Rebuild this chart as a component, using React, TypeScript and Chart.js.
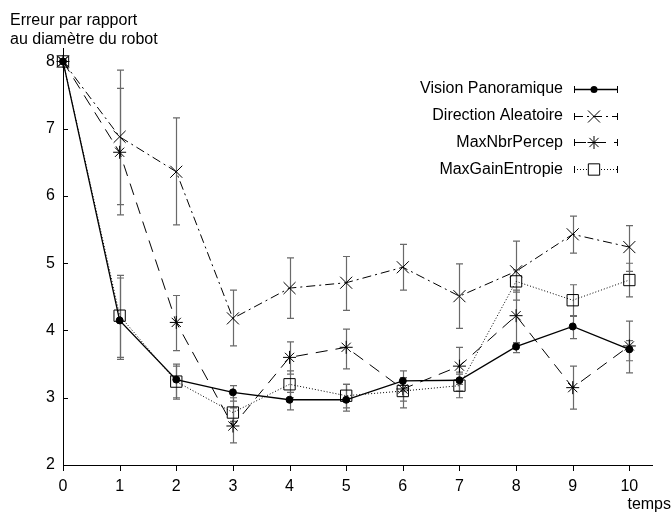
import React, { useEffect, useRef } from "react";
import { Chart, registerables } from "chart.js";

Chart.register(...registerables);

const xValues = [0, 1, 2, 3, 4, 5, 6, 7, 8, 9, 10];
const yTicks = [2, 3, 4, 5, 6, 7, 8];

const seriesNames = ["Vision Panoramique", "Direction Aleatoire", "MaxNbrPercep", "MaxGainEntropie"];

const visionVals = [8, 4.15, 3.27, 3.08, 2.97, 2.97, 3.25, 3.26, 3.76, 4.06, 3.72];
const visionLow = [8, 3.57, 3.0, 2.95, 2.82, 2.8, 3.1, 3.1, 3.67, 3.88, 3.55];
const visionHigh = [8, 4.78, 3.5, 3.18, 3.08, 3.2, 3.4, 3.38, 3.82, 4.22, 3.85];

const directionVals = [8, 6.88, 6.36, 4.18, 4.63, 4.71, 4.94, 4.51, 4.88, 5.43, 5.24];
const directionLow = [8, 5.72, 5.57, 3.77, 4.18, 4.3, 4.6, 4.03, 4.45, 5.15, 4.88];
const directionHigh = [8, 7.87, 7.16, 4.6, 5.08, 5.1, 5.28, 4.99, 5.33, 5.7, 5.56];

const maxNbrVals = [8, 6.65, 4.12, 2.58, 3.6, 3.75, 3.13, 3.47, 4.22, 3.15, 3.77];
const maxNbrLow = [8, 5.87, 3.7, 2.33, 3.35, 3.43, 2.95, 3.2, 3.8, 2.83, 3.37];
const maxNbrHigh = [8, 7.6, 4.52, 2.85, 3.83, 4.02, 3.3, 3.75, 4.6, 3.47, 4.14];

const maxGainVals = [8, 4.22, 3.24, 2.78, 3.2, 3.03, 3.1, 3.18, 4.73, 4.45, 4.75];
const maxGainLow = [8, 3.6, 2.98, 2.65, 3.0, 2.85, 2.85, 3.0, 4.57, 4.21, 4.5];
const maxGainHigh = [8, 4.82, 3.47, 3.0, 3.4, 3.2, 3.3, 3.35, 4.9, 4.68, 5.0];

const allVals = [visionVals, directionVals, maxNbrVals, maxGainVals];
const allLow = [visionLow, directionLow, maxNbrLow, maxGainLow];
const allHigh = [visionHigh, directionHigh, maxNbrHigh, maxGainHigh];

const dashes: number[][] = [[], [9, 4, 2, 4], [12, 8], [1, 2]];
const markers = ["circle", "crossRot", "star", "rect"];
const markerRadius = [3.5, 8.5, 6.5, 8];
const lineWidths = [1.3, 1, 1, 1];

const FONT = "Liberation Sans, Arial, sans-serif";

function drawMarker(ctx: CanvasRenderingContext2D, kind: string, x: number, y: number, r: number) {
  ctx.save();
  ctx.setLineDash([]);
  ctx.strokeStyle = "#000";
  ctx.fillStyle = "#000";
  ctx.lineWidth = 1;
  ctx.beginPath();
  if (kind === "circle") {
    ctx.arc(x, y, r, 0, Math.PI * 2);
    ctx.fill();
  } else if (kind === "crossRot") {
    const d = r * Math.SQRT1_2;
    ctx.moveTo(x - d, y - d);
    ctx.lineTo(x + d, y + d);
    ctx.moveTo(x + d, y - d);
    ctx.lineTo(x - d, y + d);
    ctx.stroke();
  } else if (kind === "star") {
    const d = r * Math.SQRT1_2;
    ctx.moveTo(x - d, y - d);
    ctx.lineTo(x + d, y + d);
    ctx.moveTo(x + d, y - d);
    ctx.lineTo(x - d, y + d);
    ctx.moveTo(x, y - r);
    ctx.lineTo(x, y + r);
    ctx.moveTo(x - r, y);
    ctx.lineTo(x + r, y);
    ctx.stroke();
  } else {
    const s = r * Math.SQRT1_2;
    ctx.rect(x - s, y - s, 2 * s, 2 * s);
    ctx.fillStyle = "#fff";
    ctx.fill();
    ctx.stroke();
  }
  ctx.restore();
}

const errorBarPlugin = {
  id: "errorBars",
  beforeDatasetsDraw(chart: any) {
    const ctx = chart.ctx as CanvasRenderingContext2D;
    const xs = chart.scales.x;
    const ys = chart.scales.y;
    ctx.save();
    ctx.strokeStyle = "#6a6a6a";
    ctx.lineWidth = 1.2;
    ctx.setLineDash([]);
    for (let s = 0; s < allVals.length; s++) {
      for (let i = 0; i < xValues.length; i++) {
        const lo = allLow[s][i];
        const hi = allHigh[s][i];
        if (hi - lo < 1e-6) continue;
        const px = Math.round(xs.getPixelForValue(xValues[i])) + 0.5;
        const pLo = ys.getPixelForValue(lo);
        const pHi = ys.getPixelForValue(hi);
        ctx.beginPath();
        ctx.moveTo(px, pLo);
        ctx.lineTo(px, pHi);
        ctx.moveTo(px - 3.5, pLo);
        ctx.lineTo(px + 3.5, pLo);
        ctx.moveTo(px - 3.5, pHi);
        ctx.lineTo(px + 3.5, pHi);
        ctx.stroke();
      }
    }
    ctx.restore();
  },
  afterDraw(chart: any) {
    const ctx = chart.ctx as CanvasRenderingContext2D;
    const xs = chart.scales.x;
    const ys = chart.scales.y;
    const area = chart.chartArea;
    ctx.save();
    ctx.strokeStyle = "#000";
    ctx.lineWidth = 1;
    ctx.setLineDash([]);
    ctx.beginPath();
    for (const v of yTicks) {
      const py = Math.round(ys.getPixelForValue(v)) + 0.5;
      ctx.moveTo(area.left, py);
      ctx.lineTo(area.left + 5, py);
    }
    for (const v of xValues) {
      const px = Math.round(xs.getPixelForValue(v)) + 0.5;
      ctx.moveTo(px, area.bottom);
      ctx.lineTo(px, area.bottom + 6);
    }
    ctx.stroke();

    ctx.fillStyle = "#000";
    ctx.font = `16px ${FONT}`;
    ctx.textAlign = "left";
    ctx.textBaseline = "middle";
    ctx.fillText("Erreur par rapport", 10, 21);
    ctx.fillText("au diamètre du robot", 10, 40);
    ctx.textAlign = "right";
    ctx.fillText("temps", 671, 505);

    for (let s = 0; s < seriesNames.length; s++) {
      const y = 89 + s * 26.7;
      ctx.textAlign = "right";
      ctx.fillStyle = "#000";
      ctx.font = `16px ${FONT}`;
      ctx.fillText(seriesNames[s], 563, y);
      const x0 = 574;
      const x1 = 618;
      const yy = Math.round(y) + 0.5;
      ctx.strokeStyle = "#000";
      ctx.lineWidth = lineWidths[s];
      ctx.setLineDash(dashes[s]);
      ctx.beginPath();
      ctx.moveTo(x0, yy);
      ctx.lineTo(x1, yy);
      ctx.stroke();
      ctx.setLineDash([]);
      ctx.lineWidth = 1;
      ctx.beginPath();
      ctx.moveTo(x0 + 0.5, yy - 3.5);
      ctx.lineTo(x0 + 0.5, yy + 3.5);
      ctx.moveTo(x1 - 0.5, yy - 3.5);
      ctx.lineTo(x1 - 0.5, yy + 3.5);
      ctx.stroke();
      drawMarker(ctx, markers[s], 594, yy, markerRadius[s]);
    }
    ctx.restore();
  },
};

export default function App() {
  const canvasRef = useRef<HTMLCanvasElement | null>(null);

  useEffect(() => {
    const canvas = canvasRef.current;
    if (!canvas) return;
    Chart.defaults.font.family = FONT;
    Chart.defaults.font.size = 16;
    Chart.defaults.color = "#000";

    const datasets = allVals.map((vals, s) => ({
      label: seriesNames[s],
      data: xValues.map((x, i) => ({ x, y: vals[i] })),
      borderColor: "#000",
      backgroundColor: s === 0 ? "#000" : "rgba(255,255,255,0)",
      borderWidth: lineWidths[s],
      borderDash: dashes[s],
      pointStyle: markers[s] as any,
      pointRadius: markerRadius[s],
      pointBorderColor: "#000",
      pointBackgroundColor: s === 0 ? "#000" : "rgba(255,255,255,0)",
      pointBorderWidth: 1,
      tension: 0,
      fill: false,
      clip: false as any,
    }));

    const chart = new Chart(canvas, {
      type: "line",
      data: { datasets },
      options: {
        animation: false,
        responsive: false,
        devicePixelRatio: 1,
        layout: { padding: { top: 48, right: 20, left: 0, bottom: 0 } },
        plugins: {
          legend: { display: false },
          tooltip: { enabled: false },
          title: { display: false },
        },
        scales: {
          x: {
            type: "linear",
            min: 0,
            max: 10.4,
            grid: { display: false, drawTicks: false },
            border: { display: true, color: "#000", width: 1 },
            ticks: { padding: 12, font: { size: 16, family: FONT }, color: "#000", maxRotation: 0 },
            afterBuildTicks: (axis: any) => {
              axis.ticks = xValues.map((v) => ({ value: v }));
            },
            afterFit: (axis: any) => {
              axis.height = 47;
            },
          },
          y: {
            type: "linear",
            min: 2,
            max: 8.2,
            grid: { display: false, drawTicks: false },
            border: { display: true, color: "#000", width: 1 },
            ticks: { padding: 8, font: { size: 16, family: FONT }, color: "#000" },
            afterBuildTicks: (axis: any) => {
              axis.ticks = yTicks.map((v) => ({ value: v }));
            },
            afterFit: (axis: any) => {
              axis.width = 63;
            },
          },
        },
      },
      plugins: [errorBarPlugin],
    });

    return () => {
      chart.destroy();
    };
  }, []);

  return (
    <div style={{ position: "absolute", left: 0, top: 0, width: 672, height: 512, background: "#fff" }}>
      <canvas ref={canvasRef} width={672} height={512} style={{ display: "block", width: 672, height: 512 }} />
    </div>
  );
}
